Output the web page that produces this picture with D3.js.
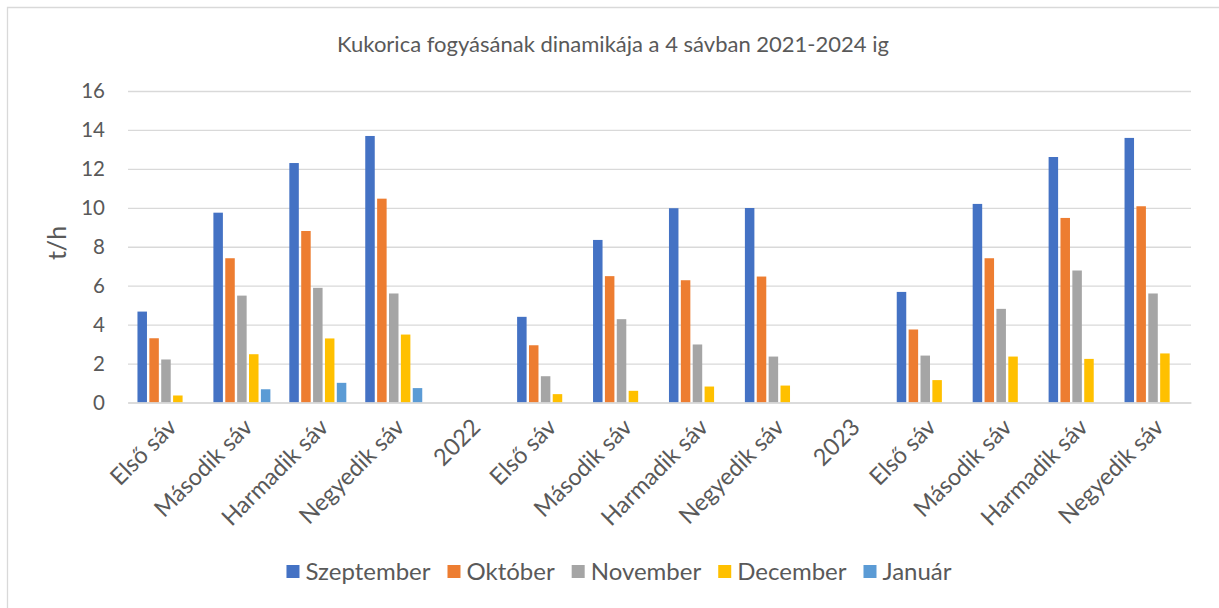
<!DOCTYPE html>
<html><head><meta charset="utf-8">
<script src="https://cdn.jsdelivr.net/npm/d3@7/dist/d3.min.js"></script>
<style>
html,body{margin:0;padding:0;background:#fff;}
svg{display:block;font-family:Lato, "Open Sans", sans-serif;}
</style></head>
<body>
<svg id="chart" width="1219" height="608"></svg>
<script>
const categories = ["Első sáv","Második sáv","Harmadik sáv","Negyedik sáv","2022","Első sáv","Második sáv","Harmadik sáv","Negyedik sáv","2023","Első sáv","Második sáv","Harmadik sáv","Negyedik sáv"];
const seriesNames = ["Szeptember","Október","November","December","Január"];
const szeptember = [4.67,9.75,12.30,13.69,null,4.40,8.35,9.98,9.99,null,5.68,10.20,12.61,13.59];
const oktober    = [3.30,7.41,8.81,10.47,null,2.94,6.49,6.28,6.47,null,3.75,7.41,9.48,10.08];
const november   = [2.21,5.49,5.89,5.60,null,1.35,4.28,2.98,2.36,null,2.41,4.81,6.78,5.60];
const december   = [0.36,2.48,3.29,3.49,null,0.43,0.60,0.82,0.87,null,1.15,2.36,2.24,2.52];
const januar     = [null,0.68,1.01,0.74,null,null,null,null,null,null,null,null,null,null];
const yTicks = [0,2,4,6,8,10,12,14,16];
const colors = ["#4472C4","#ED7D31","#A5A5A5","#FFC000","#5B9BD5"];
const title = "Kukorica fogyásának dinamikája a 4 sávban 2021-2024 ig";
const yLabel = "t/h";

(function(){
const seriesValues = [szeptember, oktober, november, december, januar];
const svg = d3.select("#chart");
const textColor = "#595959";

svg.append("path").attr("d","M7.5,608 L7.5,7.5 L1219,7.5").attr("fill","none").attr("stroke","#d9d9d9").attr("stroke-width",1.3);

const pL = 128, pR = 1191, pT = 91, pB = 402.5;
const x0 = d3.scaleBand().domain(categories.map((d,i)=>i)).range([pL,pR]).padding(0);
const groupW = 57;
const x1 = d3.scaleBand().domain(seriesNames).range([(x0.bandwidth()-groupW)/2,(x0.bandwidth()+groupW)/2]).paddingInner(0.2);
const y = d3.scaleLinear().domain([0,16]).range([pB,pT]);

const yAxis = d3.axisLeft(y).tickValues(yTicks).tickSize(-(pR-pL)).tickPadding(23);
const gy = svg.append("g").attr("transform",`translate(${pL},0)`).call(yAxis);
gy.select(".domain").remove();
gy.selectAll(".tick line").attr("stroke","#d9d9d9").attr("stroke-width",1.3);
gy.selectAll(".tick text").attr("fill",textColor).style("font-size","20.5px").style("font-family","Lato, sans-serif");

const data = [];
categories.forEach((c,i)=>{
  seriesValues.forEach((arr,s)=>{
    if(arr[i]!=null) data.push({i, s:seriesNames[s], v:arr[i], color:colors[s]});
  });
});
svg.append("g").selectAll("rect").data(data).join("rect")
  .attr("x",d=>x0(d.i)+x1(d.s))
  .attr("width",x1.bandwidth())
  .attr("y",d=>y(d.v))
  .attr("height",d=>y(0)-y(d.v))
  .attr("fill",d=>d.color);

const xAxis = d3.axisBottom(x0).tickSize(0).tickFormat(i=>categories[i]);
const gx = svg.append("g").attr("transform",`translate(0,${pB})`).call(xAxis);
gx.select(".domain").attr("stroke","#d9d9d9").attr("stroke-width",1.3);
gx.selectAll(".tick text")
  .attr("fill",textColor)
  .style("font-size","23.5px").style("font-family","Lato, sans-serif")
  .attr("text-anchor","end")
  .attr("dy","0")
  .attr("transform","translate(10,24) rotate(-45)");

svg.append("text").attr("x",613).attr("y",52).attr("text-anchor","middle")
  .attr("fill",textColor).style("font-size","22px").text(title);

svg.append("text").attr("transform","translate(66,243) rotate(-90)").attr("text-anchor","middle")
  .attr("fill",textColor).style("font-size","25px").text(yLabel);

const lg = svg.append("g");
let cx = 0;
seriesNames.forEach((n,i)=>{
  const g = lg.append("g").attr("transform",`translate(${cx},0)`);
  g.append("rect").attr("x",0).attr("y",-7).attr("width",13).attr("height",13).attr("fill",colors[i]);
  const t = g.append("text").attr("x",19).attr("y",0).attr("dy","0.35em").attr("fill",textColor).style("font-size","24px").text(n);
  cx += 19 + t.node().getComputedTextLength() + 17;
});
const lw = cx - 17;
lg.attr("transform",`translate(${619 - lw/2},572)`);
})();
</script>
</body></html>
